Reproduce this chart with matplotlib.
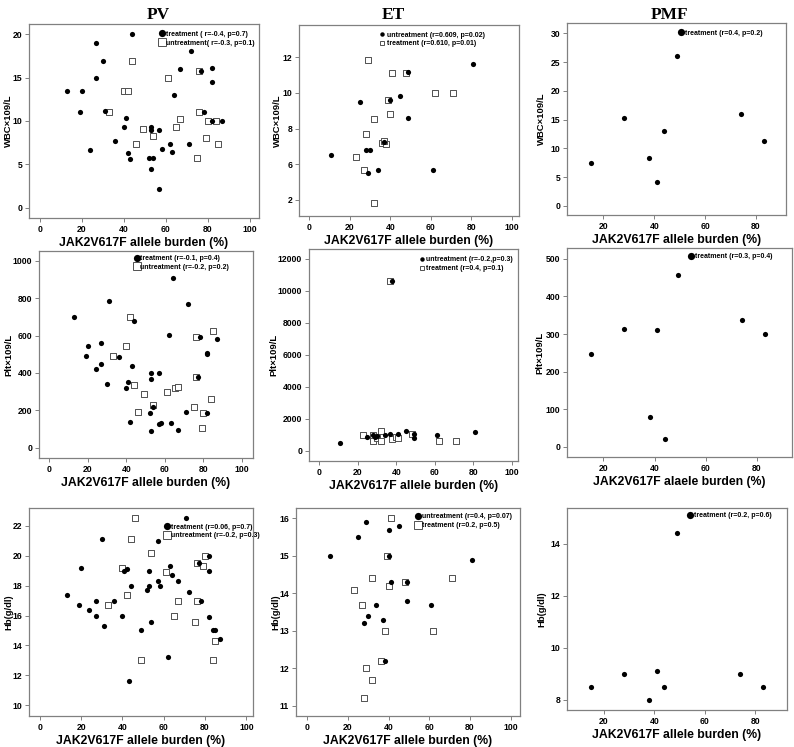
import matplotlib
matplotlib.use("Agg")
import matplotlib.pyplot as plt
from matplotlib.lines import Line2D
from matplotlib.ticker import FixedFormatter

plt.rcParams['font.family'] = ['Liberation Sans', 'DejaVu Sans']
plt.rcParams['font.weight'] = 'bold'

W, H = 794, 747

# ---------------- DATA ----------------
# PV - WBC
pv_wbc_tr_x = [44, 27, 30, 27, 13, 20, 19, 31, 41, 40, 36, 24, 42, 43, 53, 53, 57, 52, 54, 53, 57, 58, 62, 63, 64, 67, 72, 71, 77, 78, 82, 82, 82, 87]
pv_wbc_tr_y = [20, 19, 16.9, 15, 13.4, 13.5, 11, 11.1, 10.4, 9.3, 7.7, 6.7, 6.3, 5.6, 9.3, 9.0, 9.0, 5.7, 5.8, 4.5, 2.2, 6.8, 7.4, 6.4, 13, 16, 18, 7.4, 15.8, 11, 16.1, 14.5, 10, 10]
pv_wbc_un_x = [44, 40, 42, 33, 49, 54, 46, 61, 67, 65, 76, 76, 80, 84, 79, 85, 75]
pv_wbc_un_y = [16.9, 13.5, 13.4, 11, 9.1, 8.3, 7.4, 15, 10.2, 9.3, 15.8, 11, 10, 10, 8, 7.4, 5.8]

# ET - WBC (filled = untreatment, open = treatment)
et_wbc_un_x = [81, 49, 45, 25, 40, 49, 28, 30, 11, 37, 29, 34, 61]
et_wbc_un_y = [11.6, 11.14, 9.85, 9.5, 9.6, 8.58, 6.8, 6.8, 6.49, 7.27, 5.53, 5.68, 5.68]
et_wbc_tr_x = [29, 41, 48, 62, 71, 39, 40, 32, 28, 36, 38, 37, 23, 27, 32]
et_wbc_tr_y = [11.85, 11.12, 11.12, 10, 10, 9.6, 8.82, 8.56, 7.7, 7.21, 7.14, 7.29, 6.43, 5.68, 3.85]
et_wbc_ticks = [4, 6, 8, 10, 12]
et_wbc_ticklabels = ['2', '6', '8', '10', '12']

# PMF - WBC
pmf_x = [15, 28, 38, 41, 44, 49, 74, 83]
pmf_wbc_y = [7.5, 15.3, 8.3, 4.2, 13.0, 26.0, 15.9, 11.3]

# PV - Plt
pv_plt_tr_x = [13, 31, 64, 72, 44, 20, 27, 19, 27, 24, 36, 43, 30, 53, 57, 53, 41, 40, 54, 52, 42, 53, 57, 58, 63, 67, 71, 62, 78, 82, 82, 87, 77, 82]
pv_plt_tr_y = [700, 785, 905, 768, 680, 545, 560, 492, 450, 423, 483, 435, 340, 400, 400, 367, 350, 320, 220, 187, 137, 92, 125, 130, 133, 97, 192, 605, 590, 508, 500, 582, 378, 185]
pv_plt_un_x = [42, 40, 33, 44, 49, 54, 46, 61, 65, 67, 76, 85, 76, 84, 75, 80, 79]
pv_plt_un_y = [700, 543, 492, 338, 285, 230, 192, 300, 320, 323, 590, 625, 378, 260, 220, 185, 103]

# ET - Plt
et_plt_un_x = [38, 11, 25, 28, 29, 30, 34, 37, 41, 45, 49, 49, 61, 81]
et_plt_un_y = [10600, 450, 870, 950, 850, 900, 950, 1050, 1050, 1200, 1050, 780, 950, 1180]
et_plt_tr_x = [37, 23, 28, 28, 30, 32, 32, 38, 40, 41, 48, 62, 71]
et_plt_tr_y = [10600, 1000, 980, 620, 780, 1200, 600, 700, 850, 800, 1050, 600, 600]

# PMF - Plt
pmf_plt_y = [246, 313, 80, 310, 20, 458, 337, 300]

# PV - Hb
pv_hb_tr_x = [71, 30, 57, 20, 41, 42, 53, 63, 64, 44, 53, 57, 58, 67, 52, 72, 13, 19, 27, 36, 24, 27, 40, 31, 49, 54, 62, 43, 78, 82, 82, 77, 82, 84, 85, 87]
pv_hb_tr_y = [22.5, 21.1, 21, 19.2, 19, 19.1, 19, 19.3, 18.7, 18, 18, 18.3, 18, 18.3, 17.7, 17.6, 17.4, 16.7, 17, 17, 16.4, 16, 16, 15.3, 15, 15.6, 13.2, 11.6, 17, 20, 19, 19.5, 15.9, 15, 15, 14.4]
pv_hb_un_x = [46, 44, 54, 40, 42, 33, 61, 67, 65, 49, 76, 79, 80, 76, 75, 85, 84]
pv_hb_un_y = [22.5, 21.1, 20.2, 19.2, 17.4, 16.7, 18.9, 17, 16, 13, 19.5, 19.3, 20, 17, 15.6, 14.3, 13]

# ET - Hb
et_hb_un_x = [29, 25, 40, 45, 11, 40, 81, 41, 49, 34, 49, 61, 30, 37, 28, 38]
et_hb_un_y = [15.9, 15.5, 15.7, 15.8, 15, 15, 14.9, 14.3, 14.3, 13.7, 13.8, 13.7, 13.4, 13.3, 13.2, 12.2]
et_hb_tr_x = [41, 39, 32, 71, 40, 48, 23, 27, 38, 62, 36, 29, 32, 28]
et_hb_tr_y = [16, 15, 14.4, 14.4, 14.2, 14.3, 14.1, 13.7, 13, 13, 12.2, 12, 11.7, 11.2]

# PMF - Hb
pmf_hb_y = [8.5, 9, 8, 9.1, 8.5, 14.4, 9, 8.5]

titles = ['PV', 'ET', 'PMF']
xlabel = 'JAK2V617F allele burden (%)'
xlabel_pmf_plt = 'JAK2V617F alaele burden (%)'

# ---------------- LAYOUT ----------------
def rect(l, r, t, b):
    return [l / W, 1 - b / H, (r - l) / W, (b - t) / H]

fig = plt.figure(figsize=(W / 100, H / 100), dpi=100)
fig.patch.set_facecolor('white')

SPINE = '#808080'
DOT = dict(marker='o', color='black', s=14, linewidths=0, zorder=3)
SQ = dict(marker='s', facecolors='white', edgecolors='#505050', s=13, linewidths=0.7, zorder=2)


def style(ax, box, xlim, ylim, xticks, yticks, ylabel, ylab_right, xl=xlabel):
    l, r = box
    ax.set_xlim(*xlim)
    ax.set_ylim(*ylim)
    ax.set_xticks(xticks)
    ax.set_yticks(yticks)
    for s in ax.spines.values():
        s.set_color(SPINE)
        s.set_linewidth(0.9)
    ax.tick_params(direction='out', length=3, width=0.7, color=SPINE,
                   labelsize=6.2, pad=2)
    for lab in ax.get_xticklabels() + ax.get_yticklabels():
        lab.set_fontweight('bold')
    ax.set_xlabel(xl, fontsize=8.8, fontweight='bold', labelpad=2)
    ax.set_ylabel(ylabel, fontsize=6.8, fontweight='bold')
    # right edge of rotated y label, in figure pixels
    ax.yaxis.set_label_coords((ylab_right - l) / (r - l), 0.5)


def legend(ax, labels, kinds, anchor, big=True, fs=5.0):
    hs = []
    for k in kinds:
        if k == 'o':
            hs.append(Line2D([], [], marker='o', ls='none', color='black',
                             markersize=5.2 if big else 3.2, markeredgewidth=0))
        else:
            hs.append(Line2D([], [], marker='s', ls='none', markerfacecolor='white',
                             markeredgecolor='#505050', markeredgewidth=0.7,
                             markersize=5.2 if big else 3.2))
    ax.legend(hs, labels, loc='upper left', bbox_to_anchor=anchor, frameon=False,
              borderaxespad=0, borderpad=0, handletextpad=0.05 if big else 0.3,
              handlelength=1.0 if big else 0.6,
              labelspacing=0.25, prop={'size': fs, 'weight': 'bold'})

xt = [0, 20, 40, 60, 80, 100]
pmft = [20, 40, 60, 80]

# Row 1
ax1 = fig.add_axes(rect(29, 259, 24, 218))
ax1.scatter(pv_wbc_un_x, pv_wbc_un_y, **SQ)
ax1.scatter(pv_wbc_tr_x, pv_wbc_tr_y, **DOT)
style(ax1, (29, 259), (-5.1, 104.4), (-1.15, 21.15), xt, [0, 5, 10, 15, 20], 'WBC×109/L', 13)
legend(ax1, ['treatment ( r=-0.4, p=0.7)', 'untreatment( r=-0.3, p=0.1)'], ['o', 's'], (0.565, 0.965))

ax2 = fig.add_axes(rect(299, 519, 25, 216))
ax2.scatter(et_wbc_tr_x, et_wbc_tr_y, **SQ)
ax2.scatter(et_wbc_un_x, et_wbc_un_y, **DOT)
style(ax2, (299, 519), (-4.9, 103.4), (3.1, 13.8), xt, et_wbc_ticks, 'WBC×109/L', 282)
ax2.yaxis.set_major_formatter(FixedFormatter(et_wbc_ticklabels))
for lab in ax2.get_yticklabels():
    lab.set_fontweight('bold')
legend(ax2, ['untreatment (r=0.609, p=0.02)', 'treatment (r=0.610, p=0.01)'], ['o', 's'], (0.37, 0.965), big=False)

ax3 = fig.add_axes(rect(567, 786, 23, 215))
ax3.scatter(pmf_x, pmf_wbc_y, **DOT)
style(ax3, (567, 786), (5.7, 91.8), (-1.6, 31.8), pmft, [0, 5, 10, 15, 20, 25, 30], 'WBC×109/L', 546)
legend(ax3, ['treatment (r=0.4, p=0.2)'], ['o'], (0.505, 0.965))

# Row 2
ax4 = fig.add_axes(rect(39, 253, 251, 458))
ax4.scatter(pv_plt_un_x, pv_plt_un_y, **SQ)
ax4.scatter(pv_plt_tr_x, pv_plt_tr_y, **DOT)
style(ax4, (39, 253), (-5.35, 105.7), (-55, 1052), xt, [0, 200, 400, 600, 800, 1000], 'Plt×109/L', 13)
legend(ax4, ['treatment (r=-0.1, p=0.4)', 'untreatment (r=-0.2, p=0.2)'], ['o', 's'], (0.44, 0.98))

ax5 = fig.add_axes(rect(309, 518, 249, 461))
ax5.scatter(et_plt_tr_x, et_plt_tr_y, **SQ)
ax5.scatter(et_plt_un_x, et_plt_un_y, **DOT)
style(ax5, (309, 518), (-5.2, 103.1), (-650, 12626), xt, [0, 2000, 4000, 6000, 8000, 10000, 12000], 'Plt×109/L', 278)
legend(ax5, ['untreatment (r=-0.2,p=0.3)', 'treatment (r=0.4, p=0.1)'], ['o', 's'], (0.53, 0.965), big=False)

ax6 = fig.add_axes(rect(567, 792, 248, 457))
ax6.scatter(pmf_x, pmf_plt_y, **DOT)
style(ax6, (567, 792), (5.75, 93.7), (-27, 529), pmft, [0, 100, 200, 300, 400, 500], 'Plt×109/L', 544, xl=xlabel_pmf_plt)
legend(ax6, ['treatment (r=0.3, p=0.4)'], ['o'], (0.535, 0.975))

# Row 3
ax7 = fig.add_axes(rect(29, 253, 508, 716))
ax7.scatter(pv_hb_un_x, pv_hb_un_y, **SQ)
ax7.scatter(pv_hb_tr_x, pv_hb_tr_y, **DOT)
style(ax7, (29, 253), (-5.2, 103.2), (9.29, 23.18), xt, [10, 12, 14, 16, 18, 20, 22], 'Hb(g/dl)', 13)
legend(ax7, ['treatment (r=0.06, p=0.7)', 'untreatment (r=-0.2, p=0.3)'], ['o', 's'], (0.6, 0.925))

ax8 = fig.add_axes(rect(296, 520, 508, 716))
ax8.scatter(et_hb_tr_x, et_hb_tr_y, **SQ)
ax8.scatter(et_hb_un_x, et_hb_un_y, **DOT)
style(ax8, (296, 520), (-5.6, 104.6), (10.73, 16.28), xt, [11, 12, 13, 14, 15, 16], 'Hb(g/dl)', 280)
legend(ax8, ['untreatment (r=0.4, p=0.07)', 'treatment (r=0.2, p=0.5)'], ['o', 's'], (0.53, 0.975))

ax9 = fig.add_axes(rect(567, 787, 508, 710))
ax9.scatter(pmf_x, pmf_hb_y, **DOT)
style(ax9, (567, 787), (5.5, 92.5), (7.6, 15.38), pmft, [8, 10, 12, 14], 'Hb(g/dl)', 546)
legend(ax9, ['treatment (r=0.2, p=0.6)'], ['o'], (0.545, 0.98))

# Column titles
for t, xc in zip(titles, [158, 393, 670]):
    fig.text(xc / W, 1 - 15 / H, t, ha='center', va='center',
             family=['Liberation Serif', 'DejaVu Serif'], fontweight='bold', fontsize=12.5)

fig.savefig('out.png', dpi=100, facecolor='white')
